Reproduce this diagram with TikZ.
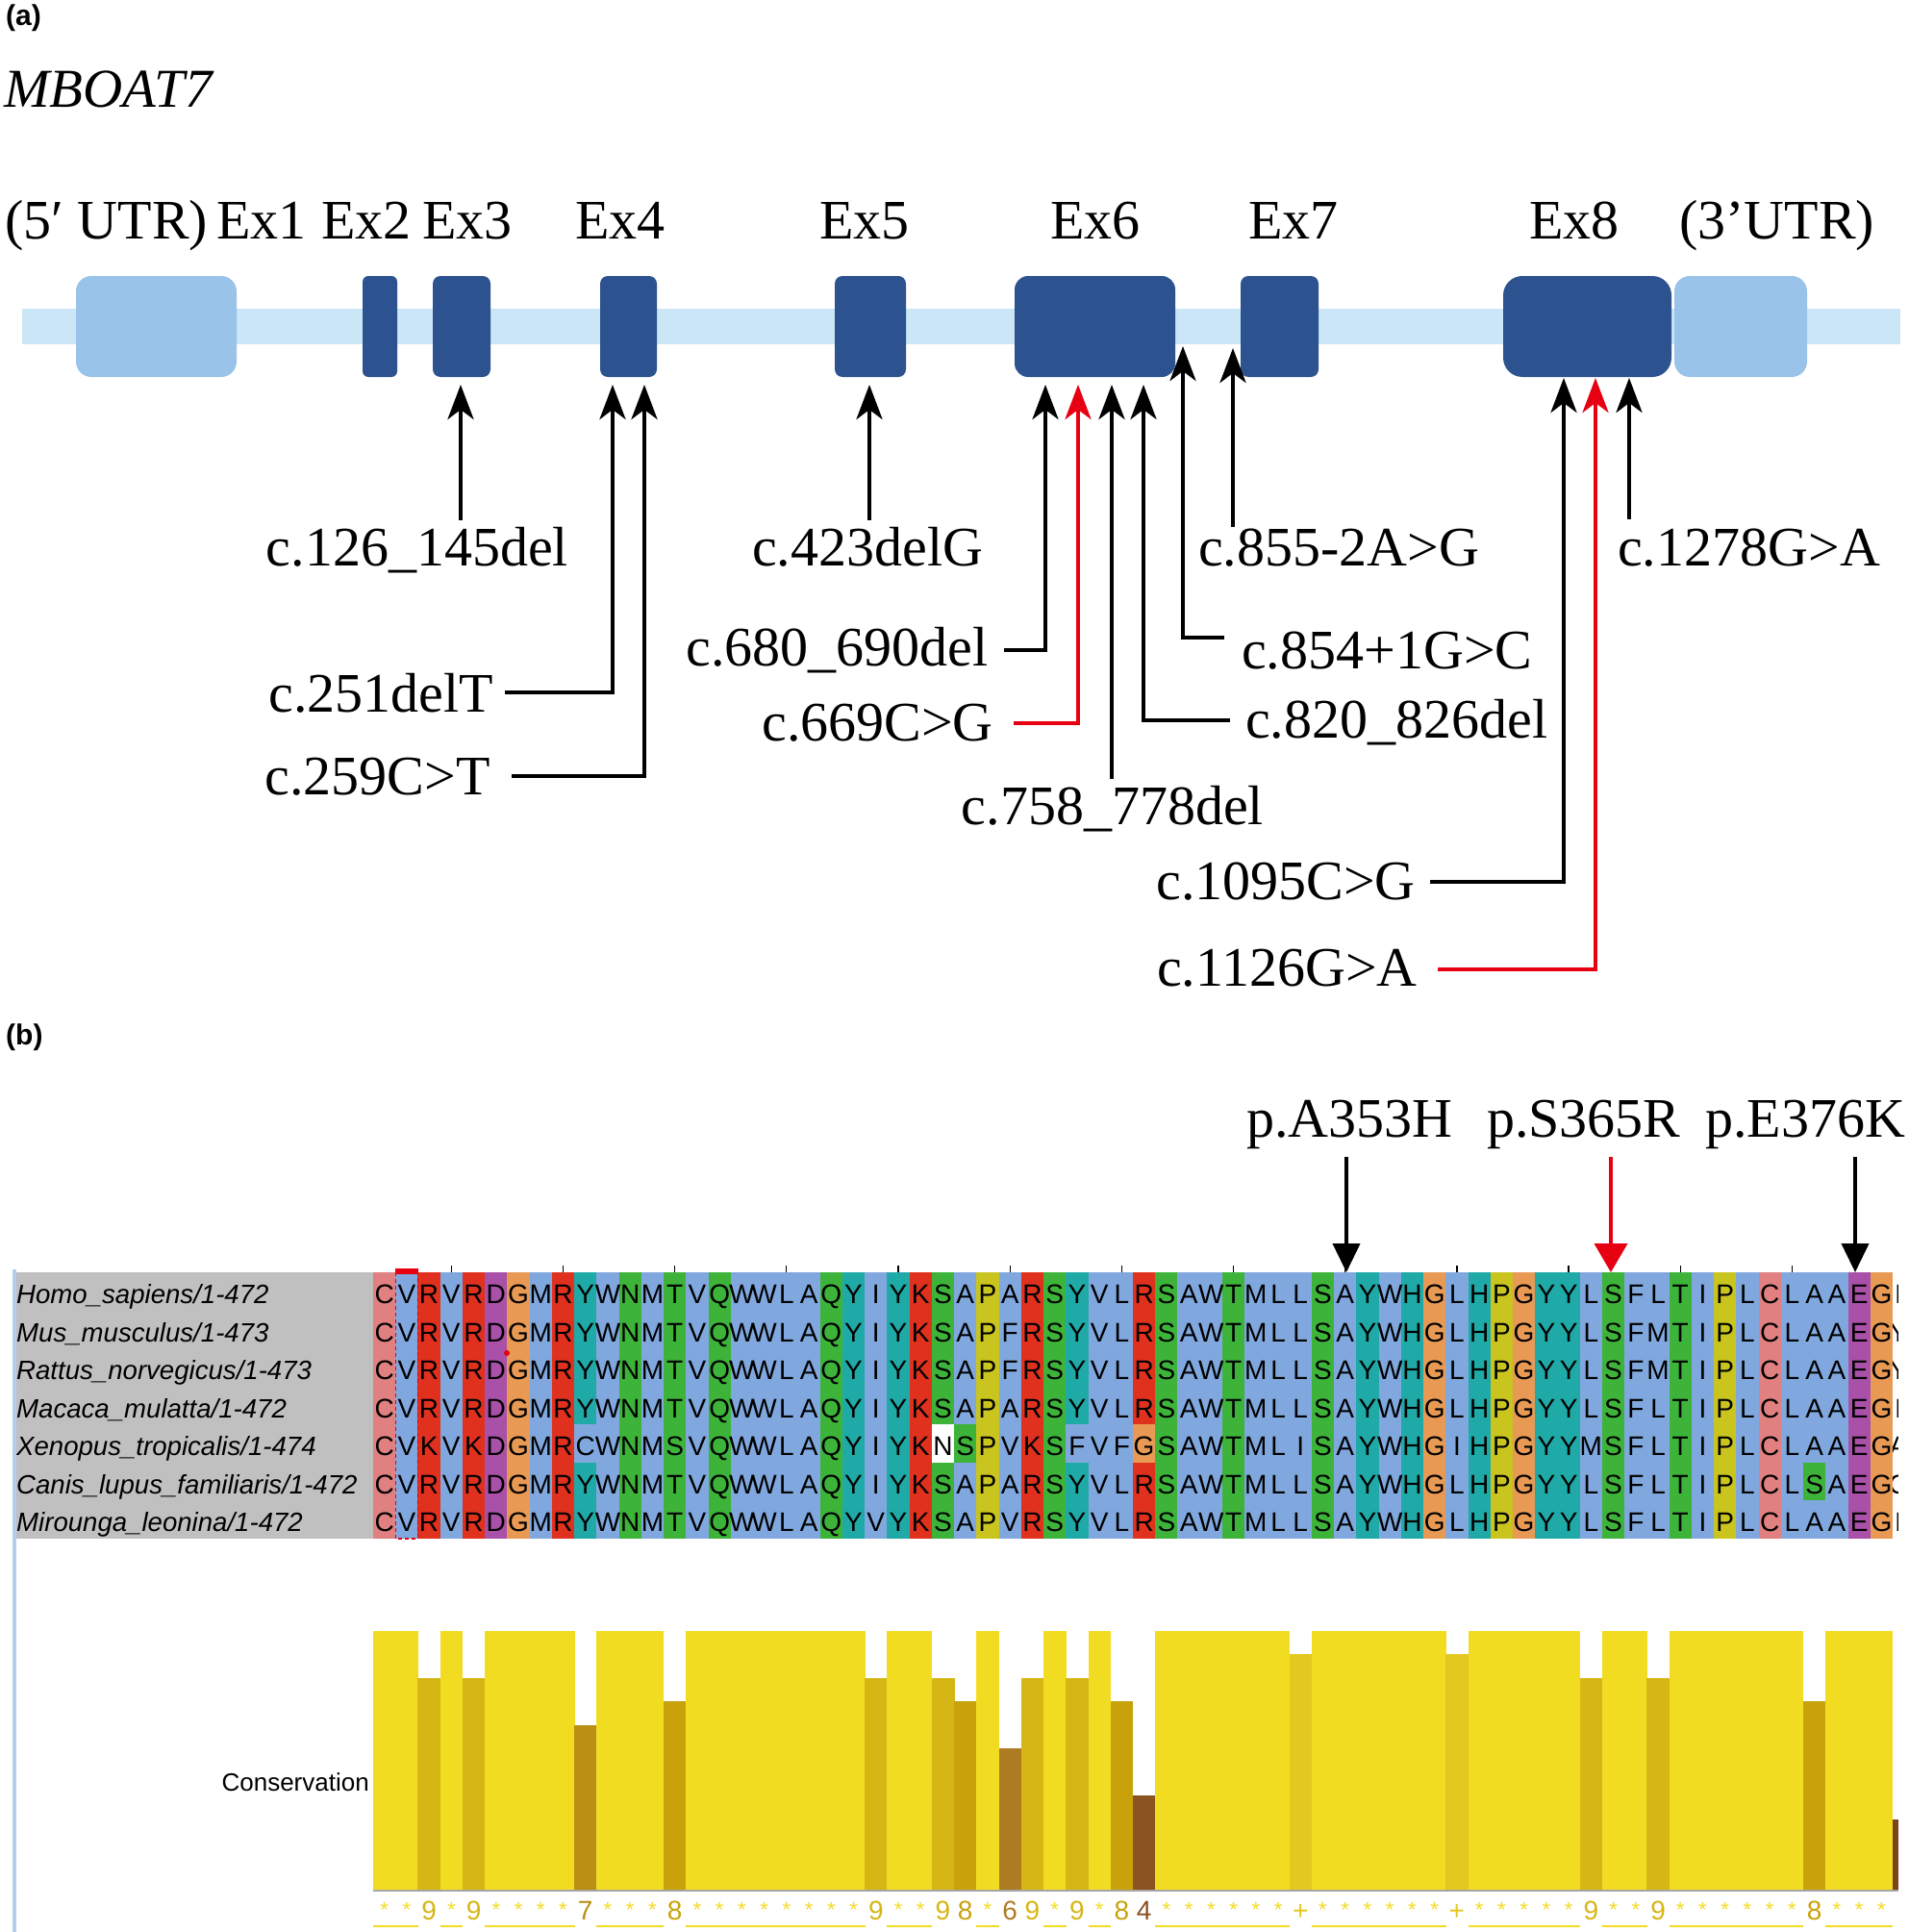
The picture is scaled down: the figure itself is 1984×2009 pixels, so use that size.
\documentclass[tikz,border=0pt]{standalone}
\usepackage{fontspec}
\setmainfont{Liberation Serif}
\newfontfamily\arialf{Liberation Sans}
\usetikzlibrary{arrows.meta}

\definecolor{track}{HTML}{CBE7F7}
\definecolor{utr}{HTML}{99C3E8}
\definecolor{exon}{HTML}{2C528F}
\definecolor{mred}{HTML}{E60012}
\definecolor{colb}{HTML}{80A8DF}
\definecolor{colr}{HTML}{DF311E}
\definecolor{colg}{HTML}{3DB439}
\definecolor{coly}{HTML}{1FAAA8}
\definecolor{colm}{HTML}{A950A8}
\definecolor{colo}{HTML}{E89A55}
\definecolor{colp}{HTML}{C9C41E}
\definecolor{colc}{HTML}{E08080}
\definecolor{colw}{HTML}{FFFFFF}
\definecolor{cons11}{HTML}{F2DC22}
\definecolor{cons10}{HTML}{E3C81F}
\definecolor{cons9}{HTML}{D6B615}
\definecolor{cons8}{HTML}{C9A20B}
\definecolor{cons7}{HTML}{BA8F13}
\definecolor{cons6}{HTML}{AD7B22}
\definecolor{cons4}{HTML}{8B5222}
\definecolor{cons3}{HTML}{7A4519}
\definecolor{panelgray}{HTML}{C0C0C0}
\definecolor{leftline}{HTML}{B5CFEA}

\newcommand\alnrow[2]{%
  \foreach \ch [count=\i] in {#2} {
    \node[aa] (s#1-\i) at ({388+(\i-0.5)*23.235}, {1355.5+39.5*#1}) {\ch};
  }}

\begin{document}
\begin{tikzpicture}[x=1pt,y=-1pt,
  lab/.style={inner sep=0pt, font=\fontsize{58}{60}\selectfont},
  aa/.style={anchor=base, inner sep=0pt, font=\arialf\fontsize{28}{28}\selectfont},
  rowlab/.style={anchor=base west, inner sep=0pt, font=\arialf\itshape\fontsize{27.6}{28}\selectfont},
  cl/.style={anchor=base, inner sep=0pt, font=\arialf\fontsize{28}{28}\selectfont},
  clstar/.style={anchor=base, inner sep=0pt, font=\arialf\fontsize{22}{22}\selectfont},
  panel/.style={anchor=base west, inner sep=0pt, font=\arialf\bfseries\fontsize{30}{30}\selectfont},
  exonbox/.style={fill=exon, rounded corners=8pt, inner sep=0pt, minimum height=105pt},
  utrbox/.style={fill=utr, rounded corners=16pt, inner sep=0pt, minimum height=105pt},
  arr/.style={line width=4.5pt, -{Stealth[length=36pt,width=27pt,inset=10pt]}},
  rarr/.style={arr, draw=mred},
  barr/.style={line width=4pt, -{Triangle[length=30pt,width=28pt]}},
  rbarr/.style={line width=4pt, draw=mred, -{Triangle[length=30pt,width=34pt]}}
]
\useasboundingbox (0,0) rectangle (1984,2009);
\fill[white] (0,0) rectangle (1984,2009);

% ---------------- (a) ----------------
\node[panel] (pa) at (6,27) {(a)};
\node[lab, anchor=base west, font=\fontsize{57}{60}\selectfont\itshape] (gene) at (4,112) {MBOAT7};

\node[lab, anchor=base west] (h5) at (5,248) {(5′ UTR)};
\node[lab, anchor=base] (h1) at (272,248) {Ex1};
\node[lab, anchor=base] (h2) at (381,248) {Ex2};
\node[lab, anchor=base] (h3) at (486,248) {Ex3};
\node[lab, anchor=base] (h4) at (645,248) {Ex4};
\node[lab, anchor=base] (h5b) at (899,248) {Ex5};
\node[lab, anchor=base] (h6) at (1139,248) {Ex6};
\node[lab, anchor=base] (h7) at (1345,248) {Ex7};
\node[lab, anchor=base] (h8) at (1637,248) {Ex8};
\node[lab, anchor=base west] (h3u) at (1746,248) {(3’UTR)};

\fill[track] (23,321) rectangle (1976,358);
\node[utrbox, minimum width=167pt] (utr5) at (162.5,339.5) {};
\node[utrbox, minimum width=138pt] (utr3) at (1810,339.5) {};
\node[exonbox, minimum width=36pt, rounded corners=6pt] (ex2) at (395,339.5) {};
\node[exonbox, minimum width=60pt] (ex3) at (480,339.5) {};
\node[exonbox, minimum width=59pt] (ex4) at (653.5,339.5) {};
\node[exonbox, minimum width=74pt] (ex5) at (905,339.5) {};
\node[exonbox, minimum width=167pt, rounded corners=14pt] (ex6) at (1138.5,339.5) {};
\node[exonbox, minimum width=81pt] (ex7) at (1330.5,339.5) {};
\node[exonbox, minimum width=175pt, rounded corners=20pt] (ex8) at (1650.5,339.5) {};

% mutation labels
\node[lab, anchor=base] (l126) at (434,588) {c.126\_145del};
\node[lab, anchor=base] (l423) at (902,588) {c.423delG};
\node[lab, anchor=base west] (l855) at (1246,588) {c.855-2A>G};
\node[lab, anchor=base west] (l1278) at (1682,588) {c.1278G>A};
\node[lab, anchor=base east] (l251) at (513,740) {c.251delT};
\node[lab, anchor=base east] (l259) at (510,826) {c.259C>T};
\node[lab, anchor=base east] (l680) at (1028,692) {c.680\_690del};
\node[lab, anchor=base east] (l669) at (1033,770) {c.669C>G};
\node[lab, anchor=base] (l758) at (1157,857) {c.758\_778del};
\node[lab, anchor=base west] (l820) at (1295,767) {c.820\_826del};
\node[lab, anchor=base west] (l854) at (1291,695) {c.854+1G>C};
\node[lab, anchor=base east] (l1095) at (1472,935) {c.1095C>G};
\node[lab, anchor=base east] (l1126) at (1474,1025) {c.1126G>A};

% arrow coordinates
\coordinate (t126) at (479,400);   \coordinate (e126) at (479,541);
\coordinate (t251) at (637,400);   \coordinate (e251) at (525,720);
\coordinate (t259) at (670,400);   \coordinate (e259) at (532,807);
\coordinate (t423) at (904,400);   \coordinate (e423) at (904,541);
\coordinate (t680) at (1087,400);  \coordinate (e680) at (1044,676);
\coordinate (t669) at (1121,400);  \coordinate (e669) at (1054,752);
\coordinate (t758) at (1156,400);  \coordinate (e758) at (1156,810);
\coordinate (t820) at (1189,400);  \coordinate (e820) at (1279,749);
\coordinate (t854) at (1230,360);  \coordinate (e854) at (1273,663);
\coordinate (t855) at (1282,362);  \coordinate (e855) at (1282,548);
\coordinate (t1095) at (1626,393); \coordinate (e1095) at (1487,917);
\coordinate (t1126) at (1659,393); \coordinate (e1126) at (1495,1008);
\coordinate (t1278) at (1694,393); \coordinate (e1278) at (1694,540);

\draw[arr] (e126) -- (t126);
\draw[arr] (e251) -| (t251);
\draw[arr] (e259) -| (t259);
\draw[arr] (e423) -- (t423);
\draw[arr] (e680) -| (t680);
\draw[rarr] (e669) -| (t669);
\draw[arr] (e758) -- (t758);
\draw[arr] (e820) -| (t820);
\draw[arr] (e854) -| (t854);
\draw[arr] (e855) -- (t855);
\draw[arr] (e1095) -| (t1095);
\draw[rarr] (e1126) -| (t1126);
\draw[arr] (e1278) -- (t1278);

% ---------------- (b) ----------------
\node[panel] (pb) at (6,1086) {(b)};
\node[lab, anchor=base west] (pA) at (1296,1182) {p.A353H};
\node[lab, anchor=base west] (pS) at (1546,1182) {p.S365R};
\node[lab, anchor=base west] (pE) at (1773,1182) {p.E376K};

\draw[leftline, line width=4pt] (15,1320) -- (15,2009);
\fill[panelgray] (17,1323) rectangle (388,1600);

% column colours
\foreach \c [count=\i] in {c,b,r,b,r,m,o,b,r,y, b,g,b,g,b,g,b,b,b,b, g,y,b,y,r,g,b,p,b,r, g,y,b,b,r,g,b,b,g,b, b,b,g,b,y,b,y,o,b,y, p,o,y,y,b,g,b,b,g,b, p,b,c,b,b,b,m,o}
  \fill[fill=col\c] ({388+(\i-1)*23.235},1323) rectangle ({388+\i*23.235+0.4},1600);
% exceptions
\foreach \r/\i/\c in {4/10/b,4/26/w,4/27/g,4/32/b,4/35/o,5/65/g}
  \fill[fill=col\c] ({388+(\i-1)*23.235},{1323+39.5*\r}) rectangle ({388+\i*23.235},{1323+39.5*(\r+1)});

% ticks
\foreach \i in {4,9,...,64}
  \draw[line width=1.2pt] ({388+(\i-0.5)*23.235},1316) -- ++(0,7);

% selection marker
\draw[mred, line width=1.2pt, dash pattern=on 4pt off 3pt] (411.2,1323) rectangle (434.5,1600);
\fill[mred] (411.2,1319) rectangle (434.5,1325);

% row labels
\foreach \nm [count=\r from 0] in {Homo\_sapiens/1-472,Mus\_musculus/1-473,Rattus\_norvegicus/1-473,Macaca\_mulatta/1-472,Xenopus\_tropicalis/1-474,Canis\_lupus\_familiaris/1-472,Mirounga\_leonina/1-472}
  \node[rowlab] (rl\r) at (17,{1355.5+39.5*\r}) {\nm};

% sequences
\alnrow{0}{C,V,R,V,R,D,G,M,R,Y,W,N,M,T,V,Q,W,W,L,A,Q,Y,I,Y,K,S,A,P,A,R,S,Y,V,L,R,S,A,W,T,M,L,L,S,A,Y,W,H,G,L,H,P,G,Y,Y,L,S,F,L,T,I,P,L,C,L,A,A,E,G}
\alnrow{1}{C,V,R,V,R,D,G,M,R,Y,W,N,M,T,V,Q,W,W,L,A,Q,Y,I,Y,K,S,A,P,F,R,S,Y,V,L,R,S,A,W,T,M,L,L,S,A,Y,W,H,G,L,H,P,G,Y,Y,L,S,F,M,T,I,P,L,C,L,A,A,E,G}
\alnrow{2}{C,V,R,V,R,D,G,M,R,Y,W,N,M,T,V,Q,W,W,L,A,Q,Y,I,Y,K,S,A,P,F,R,S,Y,V,L,R,S,A,W,T,M,L,L,S,A,Y,W,H,G,L,H,P,G,Y,Y,L,S,F,M,T,I,P,L,C,L,A,A,E,G}
\alnrow{3}{C,V,R,V,R,D,G,M,R,Y,W,N,M,T,V,Q,W,W,L,A,Q,Y,I,Y,K,S,A,P,A,R,S,Y,V,L,R,S,A,W,T,M,L,L,S,A,Y,W,H,G,L,H,P,G,Y,Y,L,S,F,L,T,I,P,L,C,L,A,A,E,G}
\alnrow{4}{C,V,K,V,K,D,G,M,R,C,W,N,M,S,V,Q,W,W,L,A,Q,Y,I,Y,K,N,S,P,V,K,S,F,V,F,G,S,A,W,T,M,L,I,S,A,Y,W,H,G,I,H,P,G,Y,Y,M,S,F,L,T,I,P,L,C,L,A,A,E,G}
\alnrow{5}{C,V,R,V,R,D,G,M,R,Y,W,N,M,T,V,Q,W,W,L,A,Q,Y,I,Y,K,S,A,P,A,R,S,Y,V,L,R,S,A,W,T,M,L,L,S,A,Y,W,H,G,L,H,P,G,Y,Y,L,S,F,L,T,I,P,L,C,L,S,A,E,G}
\alnrow{6}{C,V,R,V,R,D,G,M,R,Y,W,N,M,T,V,Q,W,W,L,A,Q,Y,V,Y,K,S,A,P,V,R,S,Y,V,L,R,S,A,W,T,M,L,L,S,A,Y,W,H,G,L,H,P,G,Y,Y,L,S,F,L,T,I,P,L,C,L,A,A,E,G}

% partial 69th column
\begin{scope}
  \clip (1968,1323) rectangle (1973,1600);
  \foreach \ch [count=\r from 0] in {I,Y,Y,I,A,C,I}
    \node[aa] (sx\r) at (1974,{1355.5+39.5*\r}) {\ch};
\end{scope}

\fill[mred] (527,1407) circle (3pt);

% mutation arrows in (b)
\coordinate (sA) at (1400,1203); \coordinate (tA) at (1400,1323);
\coordinate (sS) at (1675,1203); \coordinate (tS) at (1675,1323);
\coordinate (sE) at (1929,1203); \coordinate (tE) at (1929,1323);
\draw[barr] (sA) -- (tA);
\draw[rbarr] (sS) -- (tS);
\draw[barr] (sE) -- (tE);

% conservation
\node[anchor=base east, inner sep=0pt, font=\arialf\fontsize{26}{26}\selectfont] (consl) at (384,1862) {Conservation};
\foreach \v/\t [count=\i] in {11/*,11/*,9/9,11/*,9/9,11/*,11/*,11/*,11/*,7/7,
  11/*,11/*,11/*,8/8,11/*,11/*,11/*,11/*,11/*,11/*,
  11/*,11/*,9/9,11/*,11/*,9/9,8/8,11/*,6/6,9/9,
  11/*,9/9,11/*,8/8,4/4,11/*,11/*,11/*,11/*,11/*,
  11/*,10/+,11/*,11/*,11/*,11/*,11/*,11/*,10/+,11/*,
  11/*,11/*,11/*,11/*,9/9,11/*,11/*,9/9,11/*,11/*,
  11/*,11/*,11/*,11/*,8/8,11/*,11/*,11/*}
{
  \fill[fill=cons\v] ({388+(\i-1)*23.235},{1965-\v*269/11}) rectangle ({388+\i*23.235+0.4},1965);
  \ifnum\v=11
    \node[clstar, text=cons\v] (k\i) at ({388+(\i-0.5)*23.235},1993) {\t};
    \draw[cons11, line width=2pt] ({388+(\i-1)*23.235},2003) -- ({388+\i*23.235+0.4},2003);
  \else
    \node[cl, text=cons\v] (k\i) at ({388+(\i-0.5)*23.235},1996) {\t};
  \fi
}
\fill[cons3] (1968,1891.6) rectangle (1974,1965);
\draw[gray!70, line width=2pt] (388,1966) -- (1974,1966);
\end{tikzpicture}
\end{document}
